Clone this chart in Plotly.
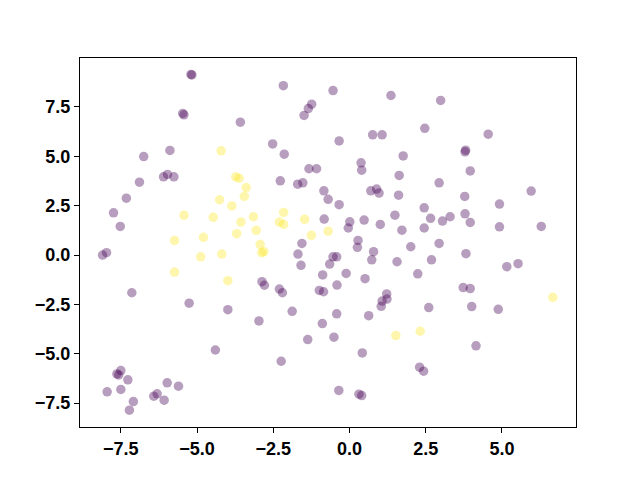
import plotly.graph_objects as go

# Purple group (label 0)
x0 = [-5.20, -5.17, -5.47, -5.43, -3.58, -5.89, -6.75, -6.10, -5.97, -5.76,
      -6.89, -7.32, -7.74, -7.52, -8.10, -7.97, -7.14, -5.26, -3.99, -4.40,
      -7.50, -7.63, -7.57, -7.27, -7.95, -7.50, -7.09, -7.22, -6.42, -6.31,
      -5.98, -5.61, -6.08, -2.17, -0.54, 1.36, -1.24, -1.35, -1.49, -2.52,
      -2.14, -0.34, 0.76, 1.07, 1.76, 0.38, 0.40, 1.63, -1.33, -1.08,
      -2.27, -1.70, -1.53, -0.84, -0.70, -0.34, 0.70, 0.89, 0.97, 1.61,
      1.49, 1.72, -0.83, 0.01, -0.04, 0.48, 1.01, 0.28, -1.56, 2.01,
      0.26, -1.69, -1.59, -0.54, -0.42, -0.65, 0.79, 0.73, 1.56, 2.24,
      -0.88, -0.11, 0.51, -0.41, -2.87, -2.79, -2.30, -2.20, -0.99, -0.85,
      1.22, 1.07, 1.23, 1.04, -1.88, -2.97, -0.42, -0.89, 0.63, -1.37,
      -0.51, 0.42, -2.24, -0.35, 0.31, 0.40, 2.94, 3.82, 2.69, 5.16,
      5.53, 3.73, 3.96, 2.60, 4.01, 4.88, 4.15, 2.30, 2.43, 2.99,
      2.47, 4.55, 3.81, 3.79, 3.96, 2.94, 3.78, 5.96, 4.92, 2.45,
      2.66, 3.05, 3.30, 3.79, 3.96, 2.45, 4.92, 6.29]
y0 = [9.15, 9.12, 7.17, 7.10, 6.73, 5.30, 4.99, 3.96, 4.08, 3.96,
      3.69, 2.88, 2.14, 1.45, 0.00, 0.12, -1.91, -2.44, -2.77, -4.81,
      -5.85, -6.02, -6.07, -6.32, -6.93, -6.81, -7.42, -7.86, -7.15, -7.03,
      -6.47, -6.64, -7.35, 8.58, 8.33, 8.08, 7.64, 7.42, 7.07, 5.63,
      5.11, 5.78, 6.09, 6.09, 5.02, 4.67, 4.30, 4.03, 4.37, 4.37,
      3.76, 3.59, 3.66, 3.25, 2.82, 2.55, 3.25, 3.34, 3.14, 3.03,
      2.02, 1.26, 1.82, 1.68, 1.37, 1.77, 1.55, 0.74, 0.59, 0.42,
      0.39, 0.05, -0.52, -0.09, -0.09, -0.46, 0.17, -0.24, -0.34, -0.95,
      -1.01, -0.93, -1.20, -1.52, -1.35, -1.53, -1.72, -1.91, -1.79, -1.86,
      -1.97, -2.33, -2.23, -2.60, -2.85, -3.34, -2.98, -3.47, -3.07, -4.28,
      -4.16, -4.96, -5.38, -6.86, -7.05, -7.12, 0.59, 0.07, -0.24, -0.59,
      -0.44, -1.65, -1.70, -2.66, -2.61, -2.75, -4.60, -5.68, -5.88, 7.83,
      6.42, 6.12, 5.31, 5.23, 4.26, 3.66, 2.97, 3.24, 2.58, 2.39,
      1.86, 1.72, 1.94, 2.09, 1.65, 1.37, 1.43, 1.45]

# Yellow group (label 1)
x1 = [-4.21, -3.73, -3.62, -3.39, -3.45, -4.26, -3.86, -5.43, -4.47, -3.56,
      -3.15, -4.79, -3.70, -5.74, -4.88, -4.19, -5.74, -3.99, -3.06, -2.30,
      -2.16, -2.16, -1.47, -1.25, -0.70, -2.93, -2.88, -2.81, 1.52, 6.67, 2.32]
y1 = [5.28, 3.96, 3.89, 3.42, 2.97, 2.80, 2.49, 2.02, 1.91, 1.67,
      1.94, 0.90, 1.08, 0.74, -0.09, 0.05, -0.86, -1.30, 1.25, 1.67,
      2.16, 1.55, 1.81, 1.00, 1.21, 0.54, 0.12, 0.17, -4.08, -2.14, -3.86]

xs = x0 + x1
ys = y0 + y1
labels = [0] * len(x0) + [1] * len(x1)

tick_vals = [-7.5, -5.0, -2.5, 0.0, 2.5, 5.0, 7.5]
tick_text = ["\u22127.5", "\u22125.0", "\u22122.5", "0.0", "2.5", "5.0", "7.5"]

fig = go.Figure(go.Scatter(
    x=xs, y=ys, mode="markers",
    marker=dict(size=9.5, color=labels, colorscale="Viridis", cmin=0, cmax=1,
                opacity=0.38, line=dict(width=0)),
    hoverinfo="skip",
))

axis_common = dict(
    showgrid=False, zeroline=False, showline=True, linecolor="black",
    linewidth=1, mirror=True, ticks="outside", ticklen=5, tickwidth=1,
    tickcolor="black",
    tickfont=dict(family="Liberation Sans", size=18, color="black", weight="bold"),
    tickvals=tick_vals, ticktext=tick_text,
)

# the page body adds an 8px offset at the top-left, so the figure is 8px smaller
fig.update_layout(
    width=632, height=472,
    margin=dict(l=72, r=64, t=50, b=53),
    plot_bgcolor="white", paper_bgcolor="white",
    showlegend=False,
    xaxis=dict(range=[-8.84, 7.43], **axis_common),
    yaxis=dict(range=[-8.71, 9.98], **axis_common),
)

fig.write_html("out.html")
